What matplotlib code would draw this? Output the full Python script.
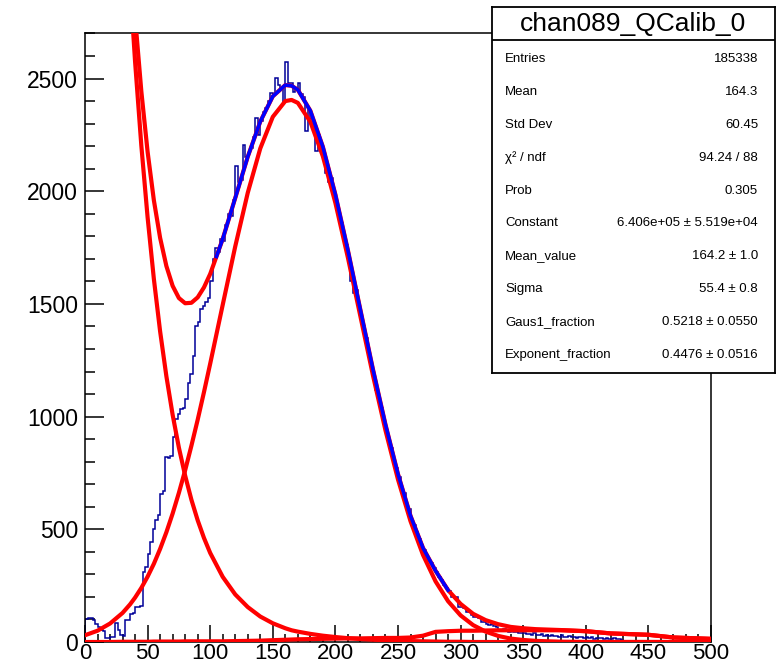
import numpy as np
import matplotlib.pyplot as plt
from matplotlib.ticker import MultipleLocator

plt.rcParams["font.family"] = ["Liberation Sans", "DejaVu Sans"]

# histogram chan089_QCalib_0: 250 bins, width 2, from 0 to 500
x_lo, x_hi, n_bins = 0, 500, 250
counts = [
    100, 108, 108, 97, 80, 66, 55, 50, 18, 16,            # 0-18
    24, 22, 83, 55, 31, 28, 96, 97, 125, 130,             # 20-38
    156, 155, 158, 311, 333, 392, 444, 503, 540, 562,     # 40-58
    658, 668, 820, 815, 825, 908, 990, 1012, 1034, 1040,  # 60-78
    1080, 1150, 1189, 1270, 1400, 1420, 1476, 1490, 1510, 1528,
    1602, 1698, 1749, 1730, 1790, 1780, 1850, 1900, 1890, 1960,
    2110, 2040, 2050, 2207, 2150, 2170, 2190, 2240, 2324, 2251,
    2310, 2350, 2370, 2400, 2435, 2430, 2501, 2470, 2460, 2398,
    2575, 2480, 2479, 2440, 2460, 2479, 2430, 2420, 2265, 2360,
    2320, 2310, 2177, 2250, 2200, 2150, 2080, 2040, 2060, 1990,
    1940, 1910, 1860, 1810, 1760, 1700, 1600, 1550, 1560, 1490,
    1440, 1400, 1350, 1290, 1230, 1190, 1120, 1090, 1040, 990,
    940, 880, 860, 800, 770, 730, 680, 660, 610, 590,
    540, 520, 490, 455, 430, 410, 385, 360, 350, 330,
    310, 290, 275, 255, 240, 225, 200, 200, 200, 156,
    156, 150, 134, 134, 120, 112, 110, 105, 90, 88,
    80, 75, 78, 72, 65, 55, 50, 58, 48, 46,
    50, 44, 46, 38, 40, 38, 35, 36, 33, 38,
    30, 32, 35, 28, 30, 26, 33, 25, 28, 22,
    30, 24, 22, 27, 20, 24, 18, 22, 20, 17,
    22, 18, 20, 15, 18, 16, 19, 14, 17, 15,
    13, 16, 12, 14, 11, 6, 3, 4, 2, 3,
    5, 2, 1, 3, 2, 4, 1, 2, 3, 1,
    2, 0, 2, 1, 3, 1, 0, 2, 1, 1,
    0, 2, 1, 0, 1, 1, 2, 0, 1, 9,
]

# fit components
curve_x = [0, 10, 20, 30, 36, 40, 45, 50, 55, 60, 65, 70, 75, 80, 85, 90, 95,
           100, 110, 120, 130, 140, 150, 160, 165, 170, 180, 190, 200, 210,
           220, 230, 240, 250, 260, 270, 280, 290, 300, 310, 320, 330, 340,
           350, 360, 380, 400, 420, 450, 470, 500]
gaus_y = [30, 50, 82, 129, 167, 197, 240, 290, 347, 413, 487, 570, 662, 762,
          871, 986, 1108, 1235, 1496, 1755, 1993, 2190, 2330, 2400, 2405,
          2392, 2308, 2155, 1948, 1705, 1444, 1183, 939, 721, 536, 386, 269,
          181, 118, 75, 46, 27, 15, 9, 5, 1, 0, 0, 0, 0, 0]
expo_y = [np.nan, np.nan, np.nan, np.nan, 2918, 2575, 2202, 1884, 1611, 1378,
          1179, 1008, 862, 738, 631, 540, 462, 395, 289, 211, 155, 113, 83,
          61, 52, 46, 36, 28, 22, 17, 13, 10, 8, 6, 4, 3, 2, 1, 1, 0, 0, 0,
          0, 0, 0, 0, 0, 0, 0, 0, 0]
bump_y = [0, 0, 0, 1, 1, 1, 1, 1, 2, 2, 2, 2, 2, 3, 3, 3, 3, 3, 3, 4, 5, 6,
          8, 10, 11, 12, 13, 14, 15, 16, 16, 17, 18, 18, 20, 28, 45, 48, 50,
          50, 51, 52, 52, 52, 52, 52, 48, 38, 32, 20, 14]
total_y = [np.nan, np.nan, np.nan, np.nan, 3086, 2773, 2443, 2175, 1960, 1793,
           1668, 1580, 1526, 1503, 1505, 1529, 1573, 1633, 1788, 1970, 2153,
           2309, 2421, 2471, 2468, 2450, 2357, 2197, 1985, 1738, 1473, 1210,
           965, 745, 560, 417, 316, 230, 169, 125, 97, 79, 67, 61, 57, 53, 48,
           38, 32, 20, 14]

# blue fit over the peak
fit_x = [105, 110, 120, 130, 140, 150, 160, 165, 170, 180, 190, 200, 210,
         220, 230, 240, 250, 260, 270, 280, 290]
fit_y = [1710, 1788, 1970, 2153, 2309, 2421, 2471, 2468, 2450, 2357, 2197,
         1985, 1738, 1473, 1210, 965, 745, 560, 417, 316, 230]

stats_title = "chan089_QCalib_0"
stats_names = ["Entries", "Mean", "Std Dev", "χ² / ndf", "Prob", "Constant",
               "Mean_value", "Sigma", "Gaus1_fraction", "Exponent_fraction"]
stats_values = ["185338", "164.3", "60.45", "94.24 / 88", "0.305",
                "6.406e+05 ± 5.519e+04", "164.2 ± 1.0", "55.4 ± 0.8",
                "0.5218 ± 0.0550", "0.4476 ± 0.0516"]


def main():
    W, H = 782, 669
    fig = plt.figure(figsize=(W / 100, H / 100), dpi=100)
    ax = fig.add_axes([85 / W, 27 / H, 626 / W, 609 / H])

    edges = np.linspace(x_lo, x_hi, n_bins + 1)
    ax.stairs(counts, edges, color="#000099", lw=1.1, zorder=2)

    red = "#ff0000"
    for ys in (bump_y, gaus_y, expo_y, total_y):
        ax.plot(curve_x, ys, color=red, lw=3.0, zorder=3)
    ax.plot(fit_x, fit_y, color="#0000ff", lw=2.6, zorder=4)

    ax.set_xlim(0, 500)
    ax.set_ylim(0, 2702)
    ax.xaxis.set_major_locator(MultipleLocator(50))
    ax.xaxis.set_minor_locator(MultipleLocator(10))
    ax.yaxis.set_major_locator(MultipleLocator(500))
    ax.yaxis.set_minor_locator(MultipleLocator(100))
    ax.tick_params(axis="both", which="both", direction="in", width=1.1,
                   labelsize=16.5, top=False, right=False)
    ax.tick_params(axis="x", which="major", length=12, pad=1, labelsize=16)
    ax.tick_params(axis="x", which="minor", length=6)
    ax.tick_params(axis="y", which="major", length=14, pad=5)
    ax.tick_params(axis="y", which="minor", length=7)
    for s in ax.spines.values():
        s.set_linewidth(1.1)

    # stats box
    sb = fig.add_axes([492 / W, (H - 373) / H, 283 / W, 366 / H])
    sb.set_xlim(492, 775)
    sb.set_ylim(373, 7)
    sb.set_xticks([])
    sb.set_yticks([])
    for s in sb.spines.values():
        s.set_linewidth(1.3)
    sb.axhline(40, color="black", lw=1.3)
    sb.text(633, 24, stats_title, ha="center", va="center", fontsize=19)
    row_y = np.linspace(62, 358, len(stats_names))
    for yy, name, val in zip(row_y, stats_names, stats_values):
        sb.text(505, yy, name, ha="left", va="baseline", fontsize=9.5)
        sb.text(758, yy, val, ha="right", va="baseline", fontsize=9.5)

    fig.savefig("out.png", dpi=100)


if __name__ == "__main__":
    main()
